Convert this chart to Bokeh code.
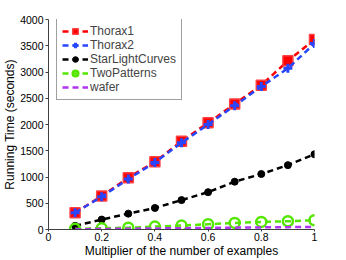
from bokeh.plotting import figure
from bokeh.models import Range1d, FixedTicker, Legend
from bokeh.embed import file_html
from bokeh.resources import INLINE

x = [0.1, 0.2, 0.3, 0.4, 0.5, 0.6, 0.7, 0.8, 0.9, 1.0]
thorax1 = [321, 636, 987, 1289, 1679, 2032, 2390, 2749, 3213, 3617]
thorax2 = [320, 625, 962, 1277, 1654, 2000, 2358, 2723, 3070, 3541]
starlight = [70, 189, 302, 410, 560, 711, 911, 1057, 1226, 1434]
twopatterns = [12, 22, 35, 55, 75, 100, 125, 145, 157, 176]
wafer = [5, 10, 15, 20, 25, 30, 35, 40, 45, 50]

x_ticks = [0, 0.2, 0.4, 0.6, 0.8, 1]
x_tick_labels = ["0", "0.2", "0.4", "0.6", "0.8", "1"]
y_ticks = [0, 500, 1000, 1500, 2000, 2500, 3000, 3500, 4000]

FONT = "Liberation Sans"

p = figure(width=346, height=260, output_backend="svg", toolbar_location=None,
           x_range=Range1d(0, 1), y_range=Range1d(0, 4000),
           min_border_left=45, min_border_right=32, min_border_top=19, min_border_bottom=29)
p.outline_line_color = None
p.xgrid.visible = False
p.ygrid.visible = False
p.background_fill_color = "white"

dash = "6 4"
lw = 2.5

r1l = p.line(x, thorax1, line_color="#ff0000", line_width=lw, line_dash=dash)
r1m = p.scatter(x, thorax1, marker="square", size=10, fill_color="#ff0000", line_color="#ff4040", line_width=1.5)
r2l = p.line(x, thorax2, line_color="#2846ff", line_width=lw, line_dash=dash)
r2m = p.scatter(x, thorax2, marker="cross", size=9, line_color="#2846ff", line_width=3)
r3l = p.line(x, starlight, line_color="black", line_width=lw, line_dash=dash)
r3m = p.scatter(x, starlight, marker="circle", size=7, fill_color="black", line_color="black")
r4l = p.line(x, twopatterns, line_color="#55e600", line_width=lw, line_dash=dash)
r4m = p.scatter(x, twopatterns, marker="circle", size=10, fill_color=None, line_color="#55e600", line_width=2.5)
r5l = p.line(x, wafer, line_color="#b033f0", line_width=lw, line_dash=dash)

legend = Legend(items=[
    ("Thorax1", [r1l, r1m]),
    ("Thorax2", [r2l, r2m]),
    ("StarLightCurves", [r3l, r3m]),
    ("TwoPatterns", [r4l, r4m]),
    ("wafer", [r5l]),
], location=(8, 129))
legend.label_text_font = FONT
legend.label_text_font_size = "12px"
legend.label_height = 14
legend.glyph_height = 14
legend.glyph_width = 26
legend.label_standoff = 2
legend.spacing = 0
legend.padding = 5
legend.margin = 0
legend.border_line_color = "#404040"
legend.border_line_width = 1
legend.background_fill_alpha = 1
p.add_layout(legend, "center")

for ax in (p.xaxis[0], p.yaxis[0]):
    ax.axis_line_color = "#404040"
    ax.major_tick_line_color = "#404040"
    ax.minor_tick_line_color = None
    ax.major_tick_in = 0
    ax.major_tick_out = 3
    ax.major_label_text_font = FONT
    ax.major_label_text_font_size = "10.5px"
    ax.major_label_text_color = "black"
    ax.major_label_standoff = 2
    ax.axis_label_text_font = FONT
    ax.axis_label_text_font_size = "12px"
    ax.axis_label_text_font_style = "normal"
    ax.axis_label_text_color = "black"
    ax.axis_label_standoff = 0

p.xaxis[0].major_tick_out = 2
p.xaxis[0].major_label_standoff = 1
p.xaxis[0].ticker = FixedTicker(ticks=x_ticks)
p.xaxis[0].major_label_overrides = {t: s for t, s in zip(x_ticks, x_tick_labels)}
p.yaxis[0].ticker = FixedTicker(ticks=y_ticks)
p.xaxis[0].axis_label = "Multiplier of the number of examples"
p.yaxis[0].axis_label = "Running Time (seconds)"

open("out.html", "w").write(file_html(p, INLINE))
